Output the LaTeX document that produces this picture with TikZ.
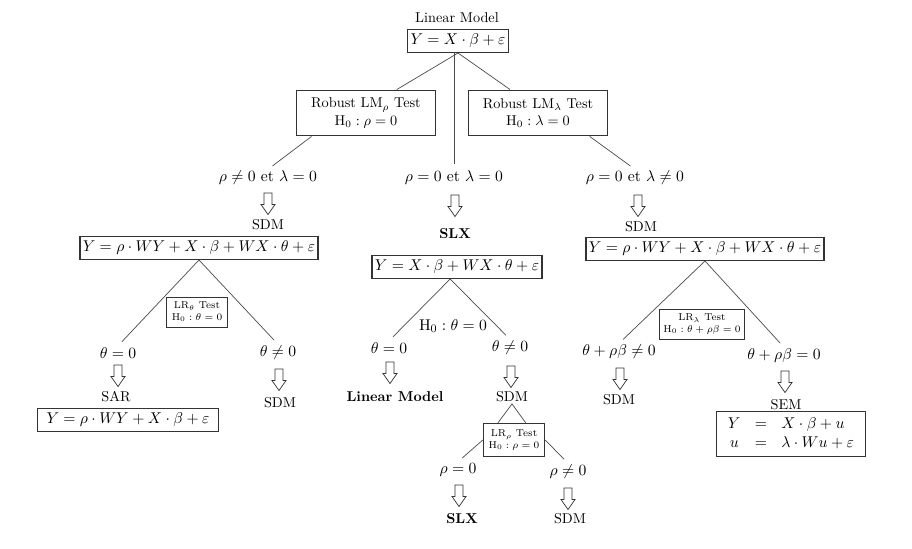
\documentclass[tikz,border=0pt]{standalone}
\usetikzlibrary{shapes.arrows,calc}
\begin{document}
\begin{tikzpicture}[x=0.7pt,y=-0.7pt,
  mf/.style={font=\fontsize{10.95}{13}\selectfont},
  box/.style={draw=black!80, line width=0.8pt, inner sep=2pt, minimum height=16pt, mf},
  tbox/.style={draw=black!80, line width=0.8pt, align=center, minimum width=97pt, minimum height=32pt, inner sep=2pt},
  sbox/.style={draw=black!80, line width=0.7pt, align=center, font=\scriptsize, inner sep=1.5pt},
  lbl/.style={inner sep=1pt, mf},
  txt/.style={inner sep=1pt},
  ln/.style={draw=black!70, line width=0.5pt},
  lnl/.style={ln, shorten >=4pt},
  hollow/.style={single arrow, draw=black!80, line width=0.5pt, shape border rotate=270,
    minimum height=15pt, inner sep=2.5pt, single arrow head extend=2.2pt, single arrow tip angle=70}]
\useasboundingbox (0,0) rectangle (912,549);

% top
\node[txt] (tlm) at (457,18) {Linear Model};
\node[box, minimum width=71pt] (top) at (458,41) {$Y=X\cdot\beta+\varepsilon$};
\node[tbox] (lmr) at (366,113) {Robust LM$_\rho$ Test\\ $\mathrm{H}_0:\rho=0$};
\node[tbox] (lml) at (538,113) {Robust LM$_\lambda$ Test\\ $\mathrm{H}_0:\lambda=0$};
\node[lbl] (l1) at (268,178) {$\rho\neq0$ et $\lambda=0$};
\node[lbl] (l2) at (454,178) {$\rho=0$ et $\lambda=0$};
\node[lbl] (l3) at (635,178) {$\rho=0$ et $\lambda\neq0$};

\draw[ln] (top.south) -- ($(lmr.north west)!0.72!(lmr.north east)$);
\draw[lnl] (l2.north |- top.south) -- (l2.north);
\draw[ln] (top.south) -- ($(lml.north west)!0.30!(lml.north east)$);
\draw[lnl] ($(lmr.south west)!0.11!(lmr.south east)$) -- (l1.north);
\draw[lnl] ($(lml.south west)!0.87!(lml.south east)$) -- (l3.north);

% left branch
\node[hollow] (a1) at (268,201) {};
\node[txt] (s1) at (268,225) {SDM};
\node[box, minimum width=162pt] (b1) at (199,248) {$Y=\rho\cdot WY+X\cdot\beta+WX\cdot\theta+\varepsilon$};
\node[sbox, minimum width=43pt, minimum height=21pt] (lrt) at (197,312) {LR$_\theta$ Test\\ $\mathrm{H}_0:\theta=0$};
\node[lbl] (t1) at (118,353) {$\theta=0$};
\node[lbl] (t2) at (278,353) {$\theta\neq0$};
\draw[lnl] (b1.south) -- (t1.north);
\draw[lnl] (b1.south) -- (t2.north);
\node[hollow] (a2) at (118,373) {};
\node[hollow] (a3) at (279,377) {};
\node[txt] (sar) at (116,397) {SAR};
\node[box, minimum width=127pt] (b4) at (128,420) {$Y=\rho\cdot WY+X\cdot\beta+\varepsilon$};
\node[txt] (s1b) at (280,403) {SDM};

% middle branch
\node[hollow] (a4) at (455,203) {};
\node[txt, font=\bfseries] (slx) at (455,234) {SLX};
\node[box, minimum width=118pt] (b2) at (457,267) {$Y=X\cdot\beta+WX\cdot\theta+\varepsilon$};
\node[lbl] (h2) at (453,326) {$\mathrm{H}_0:\theta=0$};
\node[lbl] (t3) at (389,348) {$\theta=0$};
\node[lbl] (t4) at (510,348) {$\theta\neq0$};
\draw[lnl] ($(b2.south west)!0.46!(b2.south east)$) -- (t3.north);
\draw[lnl] ($(b2.south west)!0.46!(b2.south east)$) -- (t4.north);
\node[hollow] (a5) at (390,370) {};
\node[hollow] (a6) at (511,374) {};
\node[txt, font=\bfseries] (lm2) at (395,397) {Linear Model};
\node[txt] (s2) at (512,397) {SDM};
\node[sbox, minimum width=43pt, minimum height=23pt] (lrr) at (514,440) {LR$_\rho$ Test\\ $\mathrm{H}_0:\rho=0$};
\draw[ln] (s2.south) -- ($(lrr.north west)!0.24!(lrr.north east)$);
\draw[ln] (s2.south) -- ($(lrr.north west)!0.69!(lrr.north east)$);
\node[lbl] (r1) at (458,470) {$\rho=0$};
\node[lbl] (r2) at (568,472) {$\rho\neq0$};
\draw[lnl] (lrr.west) -- (r1.north);
\draw[lnl] (lrr.east) -- (r2.north);
\node[hollow] (a7) at (459,493) {};
\node[hollow] (a8) at (568,496) {};
\node[txt, font=\bfseries] (slx2) at (462,519) {SLX};
\node[txt] (s3) at (570,519) {SDM};

% right branch
\node[hollow] (a9) at (638,203) {};
\node[txt] (s4) at (641,227) {SDM};
\node[box, minimum width=163pt] (b3) at (705,249) {$Y=\rho\cdot WY+X\cdot\beta+WX\cdot\theta+\varepsilon$};
\node[sbox, minimum width=59.5pt, minimum height=21pt] (lrl) at (702,324) {LR$_\lambda$ Test\\ $\mathrm{H}_0:\theta+\rho\beta=0$};
\node[lbl] (u1) at (619,352) {$\theta+\rho\beta\neq0$};
\node[lbl] (u2) at (784,356) {$\theta+\rho\beta=0$};
\draw[lnl] (b3.south) -- (u1.north);
\draw[lnl] (b3.south) -- (u2.north);
\node[hollow] (a10) at (620,376) {};
\node[hollow] (a11) at (785,379) {};
\node[txt] (s5) at (619,400) {SDM};
\node[txt] (sem) at (786,405) {SEM};
\node[box, minimum width=104pt, minimum height=31.5pt] (b5) at (791,434)
  {$\begin{array}{ccl} Y & = & X\cdot\beta+u\\ u & = & \lambda\cdot Wu+\varepsilon\end{array}$};
\end{tikzpicture}
\end{document}
